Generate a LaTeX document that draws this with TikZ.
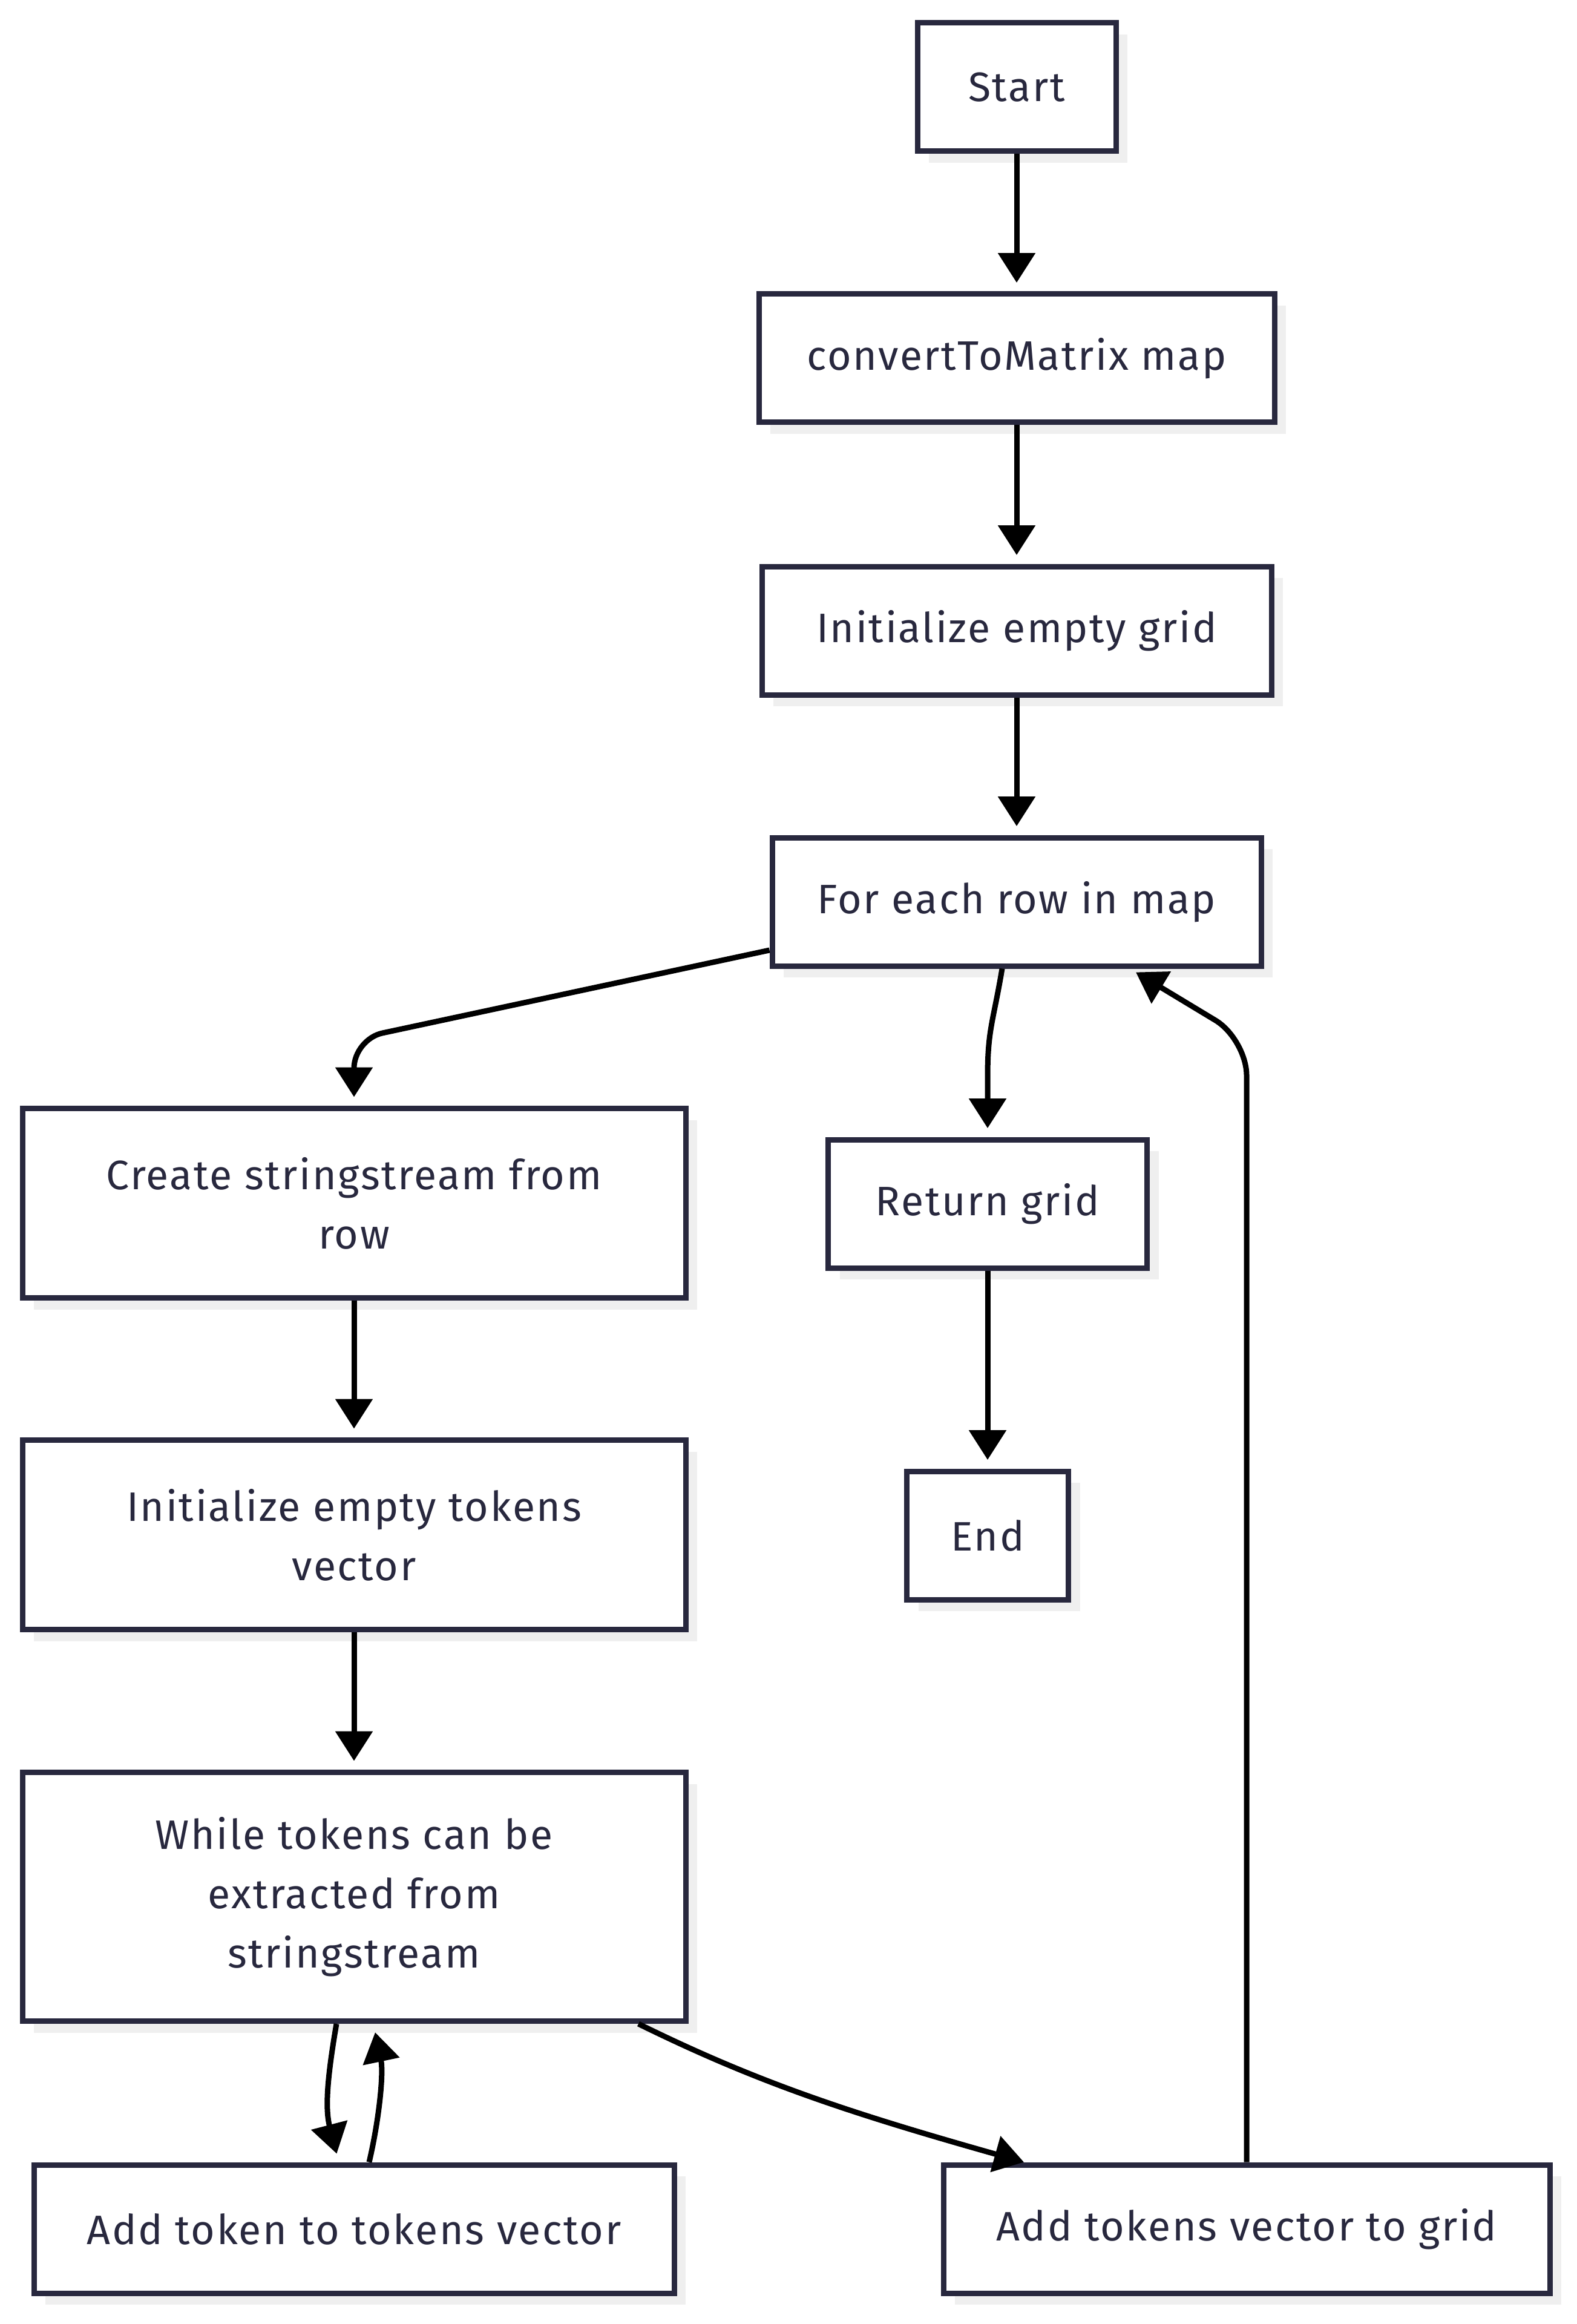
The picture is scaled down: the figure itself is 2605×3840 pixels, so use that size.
\documentclass[tikz,border=0pt]{standalone}
\usepackage{fontspec}
\setmainfont[LetterSpace=3.8]{Fira Sans}
\usetikzlibrary{arrows.meta,shadows,calc}
\definecolor{boxline}{RGB}{40,40,62}
\definecolor{txt}{RGB}{40,40,62}
\definecolor{shadowgray}{RGB}{239,239,239}
\tikzset{
  box/.style={draw=boxline, line width=2.25pt, fill=white, text=txt,
    align=center, inner sep=0pt, minimum height=53pt,
    font=\fontsize{17pt}{24.5pt}\selectfont,
    drop shadow={shadow xshift=4.75pt, shadow yshift=-4.75pt, fill=shadowgray, opacity=1}},
  twoline/.style={minimum height=78.25pt},
  threeline/.style={minimum height=102.75pt},
  arr/.style={draw=black, line width=2.25pt, -{Triangle[length=12.25pt,width=15pt]}, shorten >=3.6pt},
}
\begin{document}
\begin{tikzpicture}[x=0.25pt, y=-0.25pt]
\useasboundingbox (0,0) rectangle (2605,3840);
\fill[white] (0,0) rectangle (2605,3840);

\node[box, minimum width=82pt] (start) at (1680,144) {Start};
\node[box, minimum width=213pt] (convert) at (1680,592) {convertToMatrix map};
\node[box, minimum width=210.5pt] (initgrid) at (1680,1042) {Initialize empty grid};
\node[box, minimum width=202pt] (foreach) at (1680,1490) {For each row in map};
\node[box, twoline, minimum width=274pt] (create) at (585,1988) {Create stringstream from\\row};
\node[box, minimum width=131.75pt] (ret) at (1632,1989) {Return grid};
\node[box, twoline, minimum width=274pt] (inittok) at (585,2536) {Initialize empty tokens\\vector};
\node[box, minimum width=66.75pt] (end) at (1632,2537) {End};
\node[box, threeline, minimum width=274pt] (while) at (585,3134) {While tokens can be\\extracted from\\stringstream};
\node[box, minimum width=264.5pt] (addtok) at (585,3683) {Add token to tokens vector};
\node[box, minimum width=250.5pt] (addvec) at (2060,3683) {Add tokens vector to grid};

\draw[arr] (start) -- (convert);
\draw[arr] (convert) -- (initgrid);
\draw[arr] (initgrid) -- (foreach);
\draw[arr, rounded corners=12pt] (foreach.west |- 0,1570) -- (create.north |- 0,1717) -- (create.north);
\draw[arr] (foreach.south -| 1656,0) .. controls (1641,1690) and (1632,1700) .. (1632,1780) -- (ret.north);
\draw[arr] (ret) -- (end);
\draw[arr] (create) -- (inittok);
\draw[arr] (inittok) -- (while);
\draw[arr] (while.south -| 556,0) .. controls (543,3420) and (536,3480) .. (addtok.north -| 560,0);
\draw[arr] (addtok.north -| 610,0) .. controls (627,3500) and (634,3425) .. (while.south -| 617,0);
\draw[arr, shorten >=0pt] (while.south -| 1055,0) .. controls (1250,3440) and (1400,3490) .. (addvec.north -| 1692,0);
\draw[arr, shorten >=0pt, rounded corners=15pt] (addvec.north) -- (addvec.north |- 0,1717) -- ($(foreach.south -| 1877,0)+(0,6)$);
\end{tikzpicture}
\end{document}
